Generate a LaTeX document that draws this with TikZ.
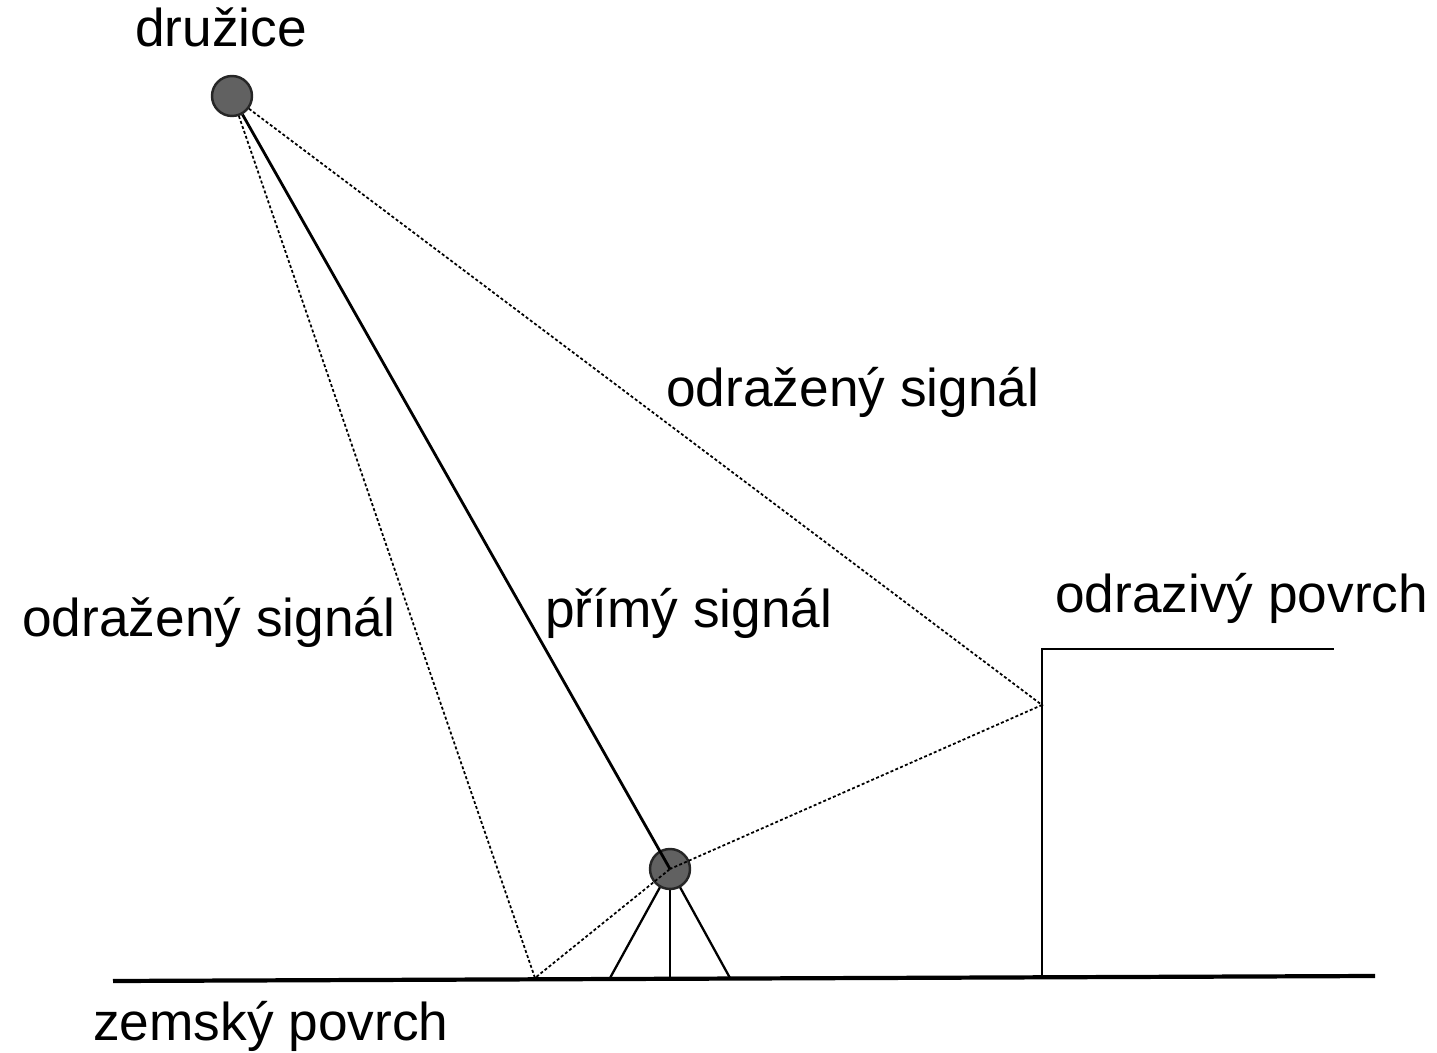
\documentclass[tikz,border=0pt]{standalone}
\usepackage{fontspec}
\setmainfont{Liberation Sans}
\begin{document}
\begin{tikzpicture}[x=0.02cm,y=-0.02cm,
  lbl/.style={anchor=base west,inner sep=0pt,font=\fontsize{30.3}{36}\selectfont},
  ball/.style={circle,draw=black!85,line width=1.4pt,fill=black!62,minimum size=0.8cm,inner sep=0pt},
  refl/.style={line width=1.0pt,dash pattern=on 0.06cm off 0.045cm},
  direct/.style={line width=1.6pt},
  thinline/.style={line width=1.3pt}]
\useasboundingbox (0,0) rectangle (1437,1053);
% coordinates
\coordinate (gl) at (113,981);
\coordinate (gr) at (1375,976);
\coordinate (g) at (535,978);
\coordinate (b) at (1042,705);
\coordinate (bb) at (1042,978);
\coordinate (bt) at (1042,649);
\coordinate (be) at (1334,649);
\coordinate (l1) at (610,978);
\coordinate (l2) at (670,978);
\coordinate (l3) at (730,978);
\coordinate (rc) at (670,869);
% ground and building
\draw[line width=2.4pt] (gl) -- (gr);
\draw[thinline] (bb) -- (bt) -- (be);
% tripod legs
\draw[thinline] (rc) -- (l1);
\draw[thinline] (rc) -- (l2);
\draw[thinline] (rc) -- (l3);
% receiver
\node[ball] (rcv) at (rc) {};
% satellite
\node[ball] (sat) at (232,96) {};
% signals
\draw[direct] (sat) -- (rcv.center);
\draw[refl] (sat) -- (g) -- (rcv.center);
\draw[refl] (sat) -- (b) -- (rcv.center);
% labels
\node[lbl] (tsat) at (135,47) {družice};
\node[lbl] (tup) at (666,407) {odražený signál};
\node[lbl] (tleft) at (22,637) {odražený signál};
\node[lbl] (tdir) at (545,628) {přímý signál};
\node[lbl] (tbld) at (1055,613) {odrazivý povrch};
\node[lbl] (tgnd) at (93,1040) {zemský povrch};
\end{tikzpicture}
\end{document}
